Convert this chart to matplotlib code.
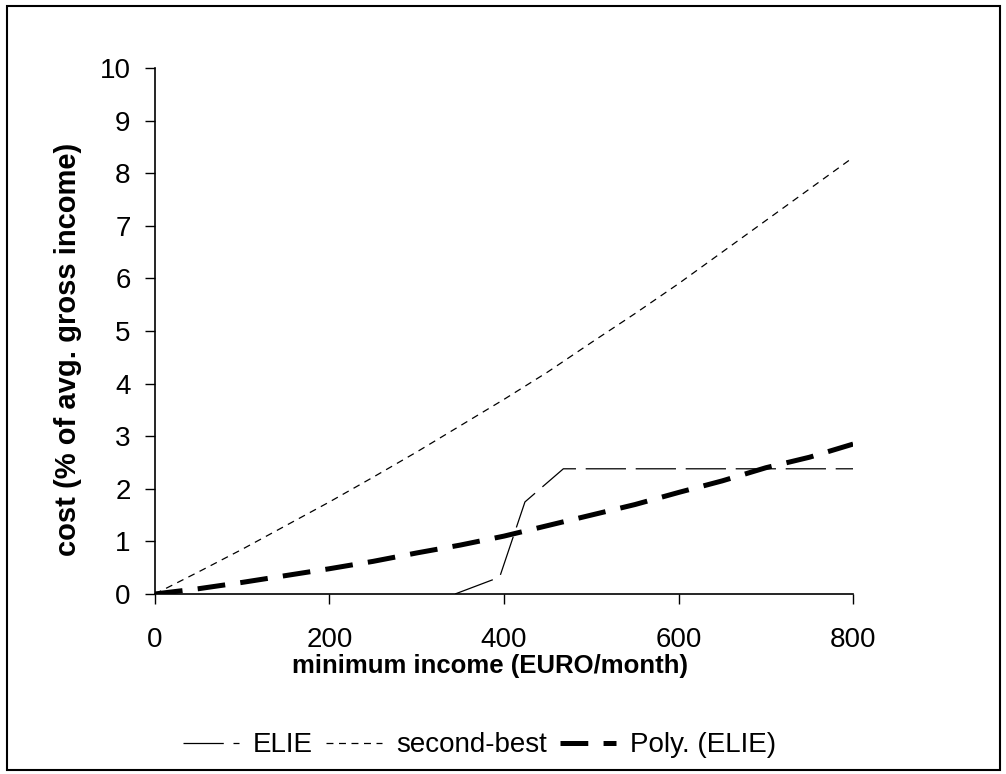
import numpy as np
import matplotlib
matplotlib.use("Agg")
import matplotlib.pyplot as plt
from matplotlib.patches import Rectangle

plt.rcParams['font.family'] = ['Liberation Sans', 'DejaVu Sans']
plt.rcParams['lines.scale_dashes'] = False

# minimum income (EURO/month)
income = [0, 50, 100, 150, 200, 250, 300, 350, 400, 450, 500, 550, 600, 650, 700, 750, 800]
second_best = [0, 0.42, 0.85, 1.3, 1.75, 2.22, 2.7, 3.2, 3.7, 4.22, 4.78, 5.33, 5.9, 6.5, 7.1, 7.7, 8.3]
poly_elie = [0, 0.1, 0.22, 0.35, 0.48, 0.62, 0.78, 0.93, 1.1, 1.3, 1.5, 1.7, 1.93, 2.15, 2.4, 2.6, 2.85]

# ELIE only starts to cost something above ~340
elie_income = [344, 395, 424, 468, 800]
elie_cost = [0.0, 0.32, 1.75, 2.38, 2.38]

fig = plt.figure(figsize=(10.06, 7.74), dpi=100)
ax = fig.add_axes([0.154, 0.2326, 0.694, 0.6795])

ax.plot(elie_income, elie_cost, color='black', lw=0.9, dashes=(29, 7), label='ELIE')
ax.plot(income, second_best, color='black', lw=0.9, dashes=(5, 4), label='second-best')
ax.plot(income, poly_elie, color='black', lw=3.6, dashes=(20, 11), label='Poly. (ELIE)')

ax.set_xlim(0, 800)
ax.set_ylim(0, 10)
ax.set_xticks([0, 200, 400, 600, 800])
ax.set_yticks(range(0, 11))
ax.tick_params(direction='out', length=7.5, width=1, labelsize=20, color='black')
ax.tick_params(axis='x', pad=16)
ax.tick_params(axis='y', pad=10)
for side in ['top', 'right']:
    ax.spines[side].set_visible(False)
for side in ['left', 'bottom']:
    ax.spines[side].set_linewidth(1.2)

ax.set_xlabel('minimum income (EURO/month)', fontsize=18.5, fontweight='bold')
ax.xaxis.set_label_coords(0.48, -0.114)
ax.set_ylabel('cost (% of avg. gross income)', fontsize=21, fontweight='bold')
ax.yaxis.set_label_coords(-0.104, 0.465)

ax.legend(loc='lower center', bbox_to_anchor=(0.465, -0.36), ncol=3, frameon=False,
          fontsize=20, handlelength=2.0, handletextpad=0.5, columnspacing=0.5)

# border around the whole figure
fig.patches.append(Rectangle((0.007, 0.005), 0.987, 0.987, transform=fig.transFigure,
                             fill=False, edgecolor='black', lw=1.5))

fig.savefig('out.png', dpi=100)
